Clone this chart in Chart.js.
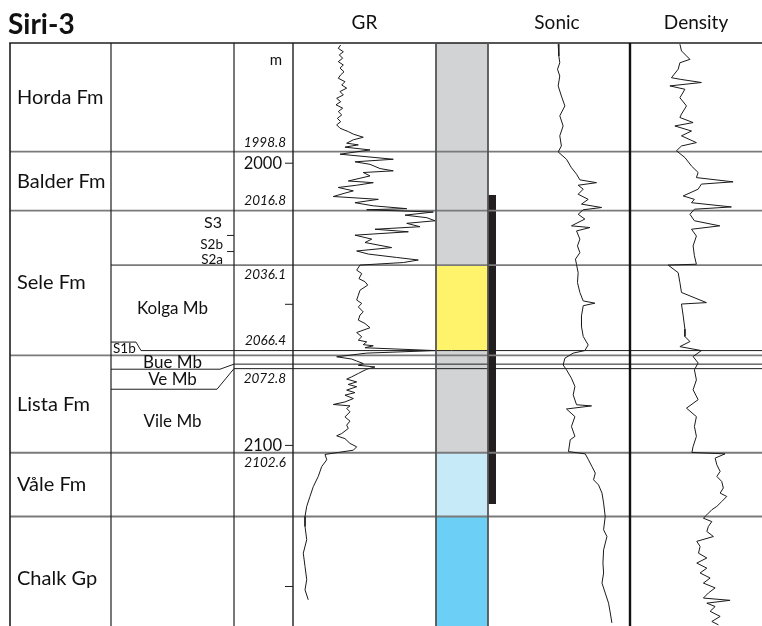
<!DOCTYPE html>
<html>
<head>
<meta charset="utf-8">
<script src="https://cdn.jsdelivr.net/npm/chart.js@4.4.1/dist/chart.umd.min.js"></script>
<style>
  html, body { margin: 0; padding: 0; background: #fff; }
  canvas { display: block; }
</style>
</head>
<body>
<canvas id="wellLog" width="762" height="626"></canvas>
<script>
// Siri-3 — well log panel: formations, depth, GR, lithology, Sonic, Density
const WELL = 'Siri-3';
const DEPTH_MIN = 1957.4, DEPTH_MAX = 2164;

// formations (left column)
const fmNames = ['Horda Fm', 'Balder Fm', 'Sele Fm', 'Lista Fm', 'Våle Fm', 'Chalk Gp'];
const fmTops  = [DEPTH_MIN, 1995.9, 2016.8, 2068.1, 2102.6, 2125.2];
const fmBaseLast = 2169; // Chalk base is below the picture

// members (second column)
const mbNames = ['S3', 'S2b', 'S2a', 'Kolga Mb', 'S1b', 'Bue Mb', 'Ve Mb', 'Vile Mb'];
const mbTops  = [2016.8, 2025.6, 2031.3, 2036.1, 2066.4, 2068.1, 2071.2, 2072.8];
const mbBases = [2025.6, 2031.3, 2036.1, 2066.4, 2068.1, 2071.2, 2072.8, 2102.6];
// thin members drawn expanded in the member column
const mbShownTops  = [2016.8, 2025.6, 2031.3, 2036.1, 2066.4, 2068.1, 2073.0, 2080.1];
const mbShownBases = [2025.6, 2031.3, 2036.1, 2066.4, 2068.1, 2073.0, 2080.1, 2102.6];

// depth column
const depthTicks = [2000, 2050, 2100, 2150];
const depthTickLabels = ['2000', '', '2100', ''];
const topLabels = ['1998.8', '2016.8', '2036.1', '2066.4', '2072.8', '2102.6'];
const topLabelAt = [1995.9, 2016.8, 2036.1, 2066.4, 2072.8, 2102.6];

// lithology column + core bar
const lithTops  = [DEPTH_MIN, 2036.1, 2066.4, 2102.6, 2125.2];
const lithBases = [2036.1, 2066.4, 2102.6, 2125.2, DEPTH_MAX];
const coreTop = 2011.3, coreBase = 2120.8;

// GR (API)
const grDepth = [
  1958.1,1959.3,1960.5,1961.6,1962.8,1964.0,1965.2,1966.3,1967.6,1968.7,1969.9,1971.1,1972.3,1973.4,1974.6,1975.8,1977.0,1978.2,1979.3,1980.5,
  1981.7,1982.9,1984.1,1985.3,1986.4,1987.6,1988.8,1989.7,1990.8,1991.7,1992.9,1993.5,1994.3,1995.3,
  1996.8,1998.6,1999.5,2000.4,2001.9,2002.7,2003.3,2004.5,2006.3,2006.9,2007.8,2008.6,2009.8,2010.6,2011.8,2012.8,2014.0,2015.1,2016.1,2016.5,
  2017.3,2018.4,2019.3,2020.4,2021.3,2022.5,2023.4,2024.3,2025.5,2026.9,2028.1,2029.9,2031.1,2032.2,2033.4,2034.3,2035.2,
  2036.1,2037.9,2039.1,2040.9,2042.0,2043.2,2045.0,2046.8,2048.5,2049.7,2050.9,2052.7,2053.8,2055.6,2056.8,2058.3,2060.0,2061.5,2062.7,2063.3,
  2064.3,2064.7,2065.4,2066.4,2067.3,2068.6,2069.4,2070.1,2071.0,2071.6,2072.2,2073.0,2074.5,2075.7,2076.5,2077.5,2078.4,2079.2,2080.4,2081.3,
  2082.2,2083.4,2084.6,2085.5,2086.0,2086.9,2088.1,2089.9,2091.4,2092.8,2094.0,2095.8,2096.6,2097.6,2099.3,2100.5,2101.7,2102.5,2103.2,
  2105.1,2107.5,2111.0,2114.6,2118.1,2121.6,2125.2,2128.7,2133.4,2138.2,2142.9,2147.6,2151.2,2154.7];
const grValue = [
  50.0,47.5,52.8,48.6,52.1,47.5,52.8,49.3,53.5,50.0,47.5,54.5,51.1,56.3,49.3,52.8,45.8,50.0,45.1,52.1,
  47.5,51.1,46.5,50.0,45.8,49.3,58.0,63.3,73.7,63.3,56.3,68.5,54.5,80.8,
  49.3,105.2,65.0,80.8,91.3,105.2,73.7,80.8,58.0,84.2,66.8,47.5,63.3,54.5,42.3,89.5,65.0,84.2,119.3,77.3,
  147.2,117.5,140.3,149.0,119.3,133.2,86.0,121.0,65.0,82.6,75.5,103.5,66.8,79.0,108.8,131.4,115.7,
  70.3,66.8,72.1,69.2,75.5,78.4,70.3,68.5,66.8,72.1,68.5,73.7,70.3,68.5,75.5,80.8,66.8,72.1,68.5,77.3,
  73.7,84.2,75.5,149.0,77.3,45.8,61.6,66.8,73.7,68.5,86.0,77.3,68.5,61.6,56.3,66.8,58.0,66.8,56.3,65.0,
  54.5,63.3,54.5,42.3,59.8,56.3,59.8,54.5,59.8,56.3,58.0,51.1,45.8,54.5,59.8,66.8,63.3,47.5,33.6,
  35.4,30.1,26.5,21.3,17.8,14.4,12.6,12.6,14.4,10.8,12.6,14.4,12.6,16.0];

// Sonic (us/ft)
const sonicDepth = [
  1957.8,1962.0,1964.4,1966.7,1969.1,1972.6,1976.2,1979.7,1983.2,1986.8,1990.3,1993.9,1996.0,1998.6,2001.6,2003.9,2005.9,2006.9,2007.8,2009.2,
  2011.0,2012.8,2014.5,2015.7,2016.5,2018.1,2019.8,2022.2,2022.8,2024.0,2026.9,2029.3,2031.7,2034.0,2035.9,2038.8,2042.3,2045.8,2048.8,2049.6,
  2050.5,2054.1,2057.9,2061.4,2064.4,2066.4,2067.3,2069.1,2071.5,2073.2,2076.2,2079.1,2082.1,2085.6,2086.0,2087.1,2089.8,2093.3,2096.8,
  2098.0,2102.2,2103.0,2105.1,2107.5,2109.8,2112.2,2114.0,2116.9,2120.4,2125.2,2129.9,2132.3,2137.0,2141.7,2145.2,2148.8,2152.3,2155.9,2159.4,2162.9];
const sonicValue = [
  93.6,93.1,92.4,94.1,92.4,93.6,91.2,88.6,92.4,89.9,92.4,91.2,93.6,87.4,83.7,79.9,77.4,65.0,78.7,74.9,
  78.7,71.2,76.2,61.2,74.9,78.7,73.7,83.7,69.9,79.9,77.4,79.2,77.4,80.7,79.9,78.7,79.2,77.4,74.9,66.2,
  74.9,76.2,76.2,74.9,71.2,73.7,82.4,88.6,89.9,87.4,83.7,81.1,82.4,79.9,68.7,87.4,81.1,83.7,81.1,
  84.6,85.9,73.4,71.0,68.4,65.9,67.2,63.5,60.9,59.7,58.5,59.7,57.2,59.7,60.2,59.7,60.9,58.5,56.0,54.7,53.5];

// Density (g/cm3)
const densDepth = [
  1957.8,1960.2,1963.2,1964.4,1966.7,1969.7,1970.3,1971.4,1972.6,1973.8,1976.8,1979.7,1982.6,1983.8,1985.6,1986.8,1988.6,1990.3,1992.7,1993.9,
  1995.6,1998.0,2001.0,2003.3,2005.1,2006.6,2007.4,2009.2,2011.6,2012.8,2014.0,2015.5,2016.3,2018.1,2020.4,2022.2,2023.4,2025.8,2029.3,2032.8,
  2035.8,2036.1,2038.8,2042.3,2045.8,2049.4,2049.9,2054.1,2058.8,2061.4,2063.2,2065.0,2066.4,2068.5,2070.8,2073.2,2076.8,2080.3,2083.8,2086.8,
  2089.8,2093.3,2096.8,2100.4,2102.5,2103.0,2104.5,2106.9,2109.2,2111.0,2112.8,2115.1,2116.9,2118.1,2119.9,2121.6,2122.8,2124.6,2125.8,2127.0,
  2128.7,2130.5,2132.3,2134.0,2135.8,2138.2,2139.9,2141.7,2143.5,2145.2,2147.0,2148.8,2150.5,2152.3,2154.1,2154.9,2155.9,2157.1,2158.8,2160.6,
  2162.4,2163.6];
const densValue = [
  2.378,2.390,2.454,2.378,2.365,2.314,2.385,2.541,2.302,2.416,2.378,2.428,2.390,2.378,2.478,2.340,2.466,2.390,2.503,2.390,
  2.352,2.416,2.466,2.516,2.503,2.781,2.541,2.516,2.403,2.488,2.466,2.768,2.488,2.454,2.488,2.680,2.466,2.503,2.478,2.488,
  2.503,2.289,2.365,2.378,2.390,2.579,2.390,2.403,2.416,2.416,2.454,2.378,2.541,2.478,2.516,2.488,2.503,2.478,2.516,2.428,
  2.503,2.488,2.503,2.478,2.469,2.720,2.645,2.658,2.683,2.658,2.695,2.707,2.683,2.733,2.695,2.658,2.620,2.582,2.556,2.620,
  2.594,2.582,2.632,2.506,2.531,2.519,2.582,2.506,2.582,2.531,2.607,2.556,2.645,2.594,2.556,2.758,2.582,2.645,2.607,2.683,
  2.620,2.670];

// ---- look ----
const LITH_FILL = ['#d2d3d5', '#fff36b', '#d2d3d5', '#c7eaf9', '#6bcff6'];
const CURVE = '#1a1a1a';
const FM_LINE = '#7a7a7a';
const INK = '#1e1e1e';
const FONT = 'Lato, "Open Sans", sans-serif';

function track(min, max, weight, reverse) {
  return { type: 'linear', axis: 'x', position: 'bottom', stack: 'tracks', stackWeight: weight,
           min, max, reverse: !!reverse, display: false };
}
function curve(axis, depth, value) {
  return { kind: 'curve', xAxisID: axis, yAxisID: 'y', order: 0,
           data: depth.map((d, i) => ({ x: value[i], y: d })),
           borderColor: CURVE, borderWidth: 1, pointRadius: 0, tension: 0, fill: false };
}
function block(axis, top, base, color) {
  return { kind: 'fill', xAxisID: axis, yAxisID: 'y', order: 2,
           data: [{ x: 0, y: top }, { x: 1, y: top }],
           borderColor: 'rgba(0,0,0,0)', borderWidth: 0, pointRadius: 0,
           backgroundColor: color, fill: { value: base } };
}

const datasets = [];
lithTops.forEach((t, i) => datasets.push(block('xLith', t, lithBases[i], LITH_FILL[i])));
datasets.push(block('xCore', coreTop, coreBase, '#231f20'));
datasets.push(curve('xGR', grDepth, grValue));
datasets.push(curve('xSonic', sonicDepth, sonicValue));
datasets.push(curve('xDens', densDepth, densValue));

function hline(ctx, y, x0, x1, color, w) {
  ctx.strokeStyle = color; ctx.lineWidth = w;
  ctx.beginPath(); ctx.moveTo(x0, y); ctx.lineTo(x1, y); ctx.stroke();
}
function vline(ctx, x, y0, y1, color, w) {
  ctx.strokeStyle = color; ctx.lineWidth = w;
  ctx.beginPath(); ctx.moveTo(x, y0); ctx.lineTo(x, y1); ctx.stroke();
}

function drawFrame(chart) {
  const ctx = chart.ctx, s = chart.scales, ca = chart.chartArea;
  const Y = d => s.y.getPixelForValue(d);
  ctx.save();
  // formation boundaries across every track
  fmTops.slice(1).forEach(d => hline(ctx, Y(d), ca.left, ca.right, FM_LINE, 1.8));
  // Kolga top starts at member column
  hline(ctx, Y(mbTops[3]), s.xMemb.left, ca.right, FM_LINE, 1.8);
  // S3 / S2b / S2a ticks
  [mbTops[1], mbTops[2]].forEach(d => hline(ctx, Y(d), s.xMemb.right - 7, s.xMemb.right, INK, 1));
  // S1b tab
  const yS1 = Y(mbTops[4]);
  ctx.strokeStyle = INK; ctx.lineWidth = 1;
  ctx.beginPath();
  ctx.moveTo(s.xMemb.left, yS1 - 8.5);
  ctx.lineTo(s.xMemb.left + 25, yS1 - 8.5);
  ctx.lineTo(s.xMemb.left + 30, yS1);
  ctx.lineTo(ca.right, yS1);
  ctx.stroke();
  // Bue / Ve expanded boxes with leaders
  [5, 6].forEach((i, k) => {
    const yShown = Y(mbShownBases[i]), yTrue = Y(mbBases[i]);
    ctx.beginPath();
    ctx.moveTo(s.xMemb.left, yShown);
    ctx.lineTo(s.xMemb.right - (k ? 17 : 14), yShown);
    ctx.lineTo(s.xDepth.left, yTrue);
    ctx.lineTo(ca.right, yTrue);
    ctx.stroke();
  });
  // frame
  hline(ctx, ca.top, ca.left - 0.8, ca.right, INK, 1.6);
  vline(ctx, s.xForm.left, ca.top, ca.bottom, INK, 1.6);
  vline(ctx, s.xMemb.left, ca.top, ca.bottom, INK, 1.2);
  vline(ctx, s.xDepth.left, ca.top, ca.bottom, INK, 1.2);
  vline(ctx, s.xGR.left, ca.top, ca.bottom, INK, 1.4);
  vline(ctx, s.xLith.left, ca.top, ca.bottom, '#555', 1.8);
  vline(ctx, s.xLith.right, ca.top, ca.bottom, '#555', 1.8);
  vline(ctx, s.xDens.left, ca.top, ca.bottom, '#111', 2.4);
  // depth ticks
  depthTicks.forEach(d => hline(ctx, Y(d), s.xDepth.right - 8, s.xDepth.right, INK, 1));
  ctx.restore();
}

function text(ctx, str, x, y, font, align) {
  ctx.font = font; ctx.textAlign = align || 'left'; ctx.textBaseline = 'middle';
  ctx.fillText(str, x, y);
}

function drawTexts(chart) {
  const ctx = chart.ctx, s = chart.scales, ca = chart.chartArea;
  const Y = d => s.y.getPixelForValue(d);
  ctx.save();
  ctx.fillStyle = '#111';
  // title + track headers
  ctx.font = 'bold 28px ' + FONT; ctx.textAlign = 'left'; ctx.textBaseline = 'alphabetic';
  ctx.fillText(WELL, 8, 34);
  [['xGR', 'GR'], ['xSonic', 'Sonic'], ['xDens', 'Density']].forEach(([id, t]) => {
    const sc = s[id];
    text(ctx, t, (sc.left + sc.right) / 2 - (id === 'xSonic' ? 6 : 0), 23, '19px ' + FONT, 'center');
  });
  // formations
  fmNames.forEach((n, i) => {
    const base = i + 1 < fmTops.length ? fmTops[i + 1] : fmBaseLast;
    const yc = (Math.max(Y(fmTops[i]), ca.top) + Y(base)) / 2;
    text(ctx, n, s.xForm.left + 7, yc, '20px ' + FONT);
  });
  // members
  const mx = s.xMemb, mc = (mx.left + mx.right) / 2;
  mbNames.forEach((n, i) => {
    const yc = (Y(mbShownTops[i]) + Y(mbShownBases[i])) / 2;
    if (i === 0) text(ctx, n, mx.right - 12, yc, '16px ' + FONT, 'right');
    else if (i < 3) text(ctx, n, mx.right - 11, yc + 1.5, '13.5px ' + FONT, 'right');
    else if (i === 4) text(ctx, n, mx.left + 2, Y(mbTops[4]) - 1.5, '13.5px ' + FONT);
    else text(ctx, n, mc, yc + (i === 7 ? 1 : 0.5), '17px ' + FONT, 'center');
  });
  // depth column
  const dx = s.xDepth;
  text(ctx, 'm', dx.right - 11, 60, '15px ' + FONT, 'right');
  depthTicks.forEach((d, i) => {
    if (depthTickLabels[i]) text(ctx, depthTickLabels[i], dx.right - 11, Y(d), '16.5px ' + FONT, 'right');
  });
  const side = [-1, -1, 1, -1, 1, 1];
  topLabels.forEach((t, i) => {
    text(ctx, t, dx.right - 7, Y(topLabelAt[i]) + side[i] * 9.5, 'italic 13.5px ' + FONT, 'right');
  });
  ctx.restore();
}

const framePlugin = {
  id: 'logFrame',
  beforeDatasetsDraw(chart) { chart.$frameDone = false; },
  beforeDatasetDraw(chart, args) {
    if (chart.$frameDone || chart.data.datasets[args.index].kind !== 'curve') return;
    chart.$frameDone = true;
    drawFrame(chart);
  },
  afterDraw(chart) { drawTexts(chart); }
};

new Chart(document.getElementById('wellLog'), {
  type: 'line',
  data: { datasets },
  options: {
    responsive: false, animation: false, events: [],
    layout: { padding: { top: 43, left: 10, right: 0, bottom: 0 } },
    plugins: { legend: { display: false }, tooltip: { enabled: false }, title: { display: false } },
    scales: {
      y: { type: 'linear', position: 'left', reverse: true, min: DEPTH_MIN, max: DEPTH_MAX, display: false },
      xForm: track(0, 1, 101),
      xMemb: track(0, 1, 123),
      xDepth: track(0, 1, 59),
      xGR: track(0, 150, 143),
      xLith: track(0, 1, 52),
      xCore: track(0, 1, 8),
      xSonic: track(40, 140, 134, true),
      xDens: track(2, 3, 132)
    }
  },
  plugins: [framePlugin]
});
</script>
</body>
</html>
